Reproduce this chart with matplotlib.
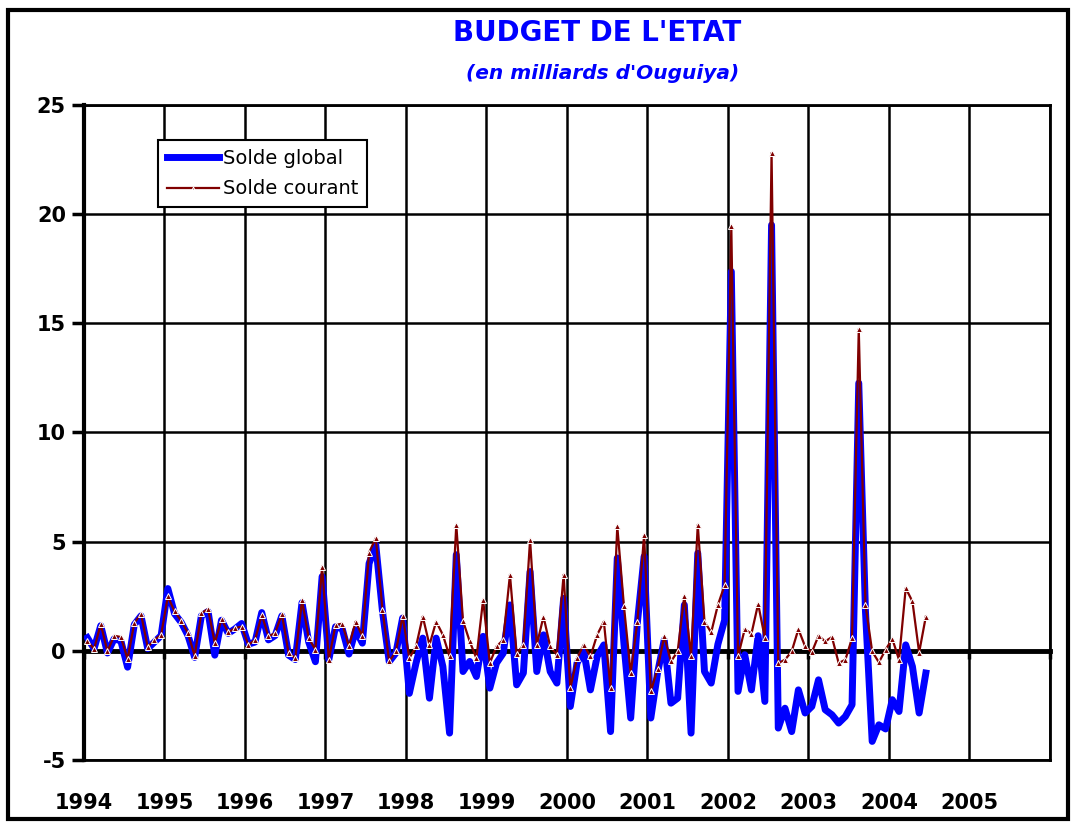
import numpy as np
import matplotlib
matplotlib.use("Agg")
import matplotlib.pyplot as plt
from matplotlib.patches import Rectangle

plt.rcParams["axes.unicode_minus"] = False

# Soldes mensuels du budget de l'Etat, janvier 1994 - juin 2004 (milliards d'UM)
solde_courant = [
    0.46, 0.08, 1.22, -0.03, 0.69, 0.63, -0.38, 1.27, 1.69, 0.17, 0.50, 0.73,
    2.49, 1.80, 1.37, 0.81, -0.23, 1.73, 1.91, 0.35, 1.45, 0.84, 1.04, 1.11,
    0.27, 0.50, 1.65, 0.66, 0.81, 1.69, -0.11, -0.34, 2.31, 0.58, 0.05, 3.86,
    -0.41, 1.19, 1.24, 0.20, 1.34, 0.66, 4.50, 5.16, 1.88, -0.49, -0.03, 1.60,
    -0.34, 0.20, 1.57, 0.27, 1.34, 0.73, -0.26, 5.77, 1.37, 0.43, -0.34, 2.34,
    -0.56, 0.20, 0.50, 3.48, -0.14, 0.27, 5.08, 0.27, 1.57, 0.20, -0.18, 3.48,
    -1.71, -0.34, 0.27, -0.26, 0.73, 1.34, -1.71, 5.70, 2.03, -1.02, 1.34, 5.31,
    -1.86, -0.84, 0.66, -0.49, -0.03, 2.52, -0.26, 5.77, 1.34, 0.84, 2.10, 3.00,
    19.44, -0.26, 0.99, 0.78, 2.15, 0.58, 22.80, -0.56, -0.41, -0.03, 0.99, 0.20,
    -0.07, 0.69, 0.43, 0.63, -0.56, -0.41, 0.58, 14.73, 2.10, -0.03, -0.53, 0.05,
    0.55, -0.41, 2.87, 2.26, -0.08, 1.57,
]
solde_global = [
    0.60, 0.10, 1.15, -0.10, 0.55, 0.45, -0.75, 1.20, 1.60, 0.10, 0.40, 0.70,
    2.85, 1.70, 1.30, 0.70, -0.30, 1.60, 1.80, -0.20, 1.40, 0.80, 1.00, 1.25,
    0.30, 0.40, 1.75, 0.50, 0.70, 1.60, -0.20, -0.40, 2.20, 0.40, -0.50, 3.40,
    -0.40, 1.10, 1.00, -0.15, 0.95, 0.35, 4.00, 4.85, 1.80, -0.50, -0.10, 1.50,
    -1.95, -0.56, 0.58, -2.17, 0.58, -0.72, -3.77, 4.40, -0.95, -0.49, -1.18, 0.66,
    -1.71, -0.56, -0.11, 2.10, -1.56, -1.02, 3.63, -0.95, 0.73, -0.95, -1.48, 2.40,
    -2.55, -0.56, 0.00, -1.79, -0.26, 0.27, -3.70, 4.25, 0.30, -3.08, 1.30, 4.32,
    -3.08, -1.02, 0.50, -2.40, -2.17, 2.10, -3.77, 4.47, -0.95, -1.48, 0.30, 1.40,
    17.37, -1.86, -0.18, -1.79, 0.69, -2.32, 19.50, -3.54, -2.63, -3.70, -1.79, -2.85,
    -2.55, -1.33, -2.70, -2.93, -3.31, -3.01, -2.47, 12.26, 1.80, -4.15, -3.39, -3.58,
    -2.24, -2.78, 0.27, -0.72, -2.85, -1.02,
]
annees = list(range(1994, 2007))
labels_annees = [str(a) for a in annees[:-1]] + [""]

# dates au milieu de chaque mois
mois = 1994 + (np.arange(len(solde_global)) + 0.5) / 12

fig = plt.figure(figsize=(10.74, 8.23), dpi=100)
ax = fig.add_axes([0.0782, 0.0766, 0.8994, 0.7959])

ax.plot(mois, solde_global, color="#0000FF", lw=5, solid_joinstyle="round",
        label="Solde global", zorder=3)
ax.plot(mois, solde_courant, color="#800000", lw=1.6, marker="^", markersize=5,
        markerfacecolor="#800000", markeredgecolor="white", markeredgewidth=0.7,
        label="Solde courant", zorder=4)

ax.set_xlim(1994, 2006)
ax.set_ylim(-5, 25)
ax.set_yticks(range(-5, 26, 5))
ax.set_xticks(annees)
ax.set_xticklabels(labels_annees)
ax.grid(True, color="black", lw=1.8)
ax.set_axisbelow(True)

for lab in ax.get_xticklabels() + ax.get_yticklabels():
    lab.set_fontweight("bold")
    lab.set_fontsize(15)
ax.tick_params(axis="x", length=0, pad=24)
ax.tick_params(axis="y", direction="out", length=9, width=2.5, pad=4)

ax.spines["left"].set_linewidth(3)
for s in ("top", "right", "bottom"):
    ax.spines[s].set_linewidth(2)

# axe des abscisses au niveau zero
axe0 = ax.secondary_xaxis(5 / 30)
axe0.set_xticks(annees)
axe0.tick_params(direction="out", length=6, width=2.5, labelbottom=False)
axe0.spines["bottom"].set_linewidth(3.5)

leg = ax.legend(loc="upper left", bbox_to_anchor=(0.0766, 0.9466), borderaxespad=0,
                fancybox=False, framealpha=1, edgecolor="black", fontsize=14,
                handlelength=2.7, handletextpad=0.2, borderpad=0.45, labelspacing=0.6,
                markerscale=0.4)
leg.get_frame().set_linewidth(1.5)

fig.text(0.556, 0.96, "BUDGET DE L'ETAT", color="#0000FF", fontsize=20,
         fontweight="bold", ha="center", va="center")
fig.text(0.561, 0.911, "(en milliards d'Ouguiya)", color="#0000FF", fontsize=14.5,
         fontweight="bold", fontstyle="italic", ha="center", va="center")

fig.patches.append(Rectangle((0.007, 0.005), 0.987, 0.983, transform=fig.transFigure,
                             fill=False, edgecolor="black", lw=3))

fig.savefig("out.png", dpi=100)
